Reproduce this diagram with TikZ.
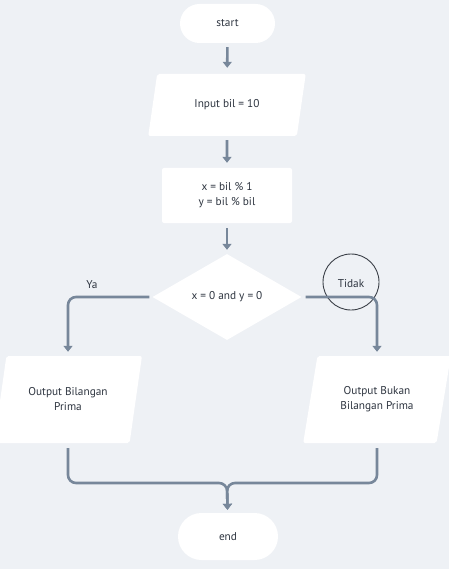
\documentclass[tikz,border=0pt]{standalone}
\usepackage{fontspec}
\setmainfont{PT Sans}
\usepackage{xcolor}
\usetikzlibrary{positioning,shapes.geometric,shapes.misc,arrows.meta}
\definecolor{bgcol}{HTML}{EEF1F5}
\definecolor{linecol}{HTML}{77879A}
\definecolor{txtcol}{HTML}{2E3540}
\definecolor{ringcol}{HTML}{3A3F47}
\tikzset{
  basic/.style    = {fill=white, draw=none, text=txtcol, align=center,
                     font=\fontsize{11.3}{15}\selectfont, inner sep=0pt},
  terminal/.style = {basic, rounded rectangle, minimum width=95pt,
                     minimum height=39pt},
  io/.style       = {basic, trapezium, trapezium stretches=true,
                     rounded corners=2pt},
  process/.style  = {basic, rectangle, rounded corners=2pt,
                     minimum width=130pt, minimum height=55pt},
  decision/.style = {basic, diamond, minimum width=149pt, minimum height=86pt},
  label/.style    = {text=txtcol, font=\fontsize{11.3}{15}\selectfont, inner sep=0pt},
  flow/.style     = {draw=linecol, line width=2.6pt, rounded corners=8pt,
                     -{Triangle[length=6pt,width=9pt]}},
  ring/.style     = {circle, draw=ringcol, line width=0.9pt, minimum size=56pt}
}

\begin{document}
\begin{tikzpicture}[x=1pt,y=-1pt]
  \fill[bgcol] (0,0) rectangle (449,569);
  \useasboundingbox (0,0) rectangle (449,569);

  \node[terminal] (start) at (227.5,23.5) {start};
  \node[io, minimum width=158pt, minimum height=62pt,
        trapezium left angle=68, trapezium right angle=112]
        (input) at (227,105) {Input bil = 10};
  \node[process] (calc) at (227,195.5) {x = bil \% 1\\y = bil \% bil};
  \node[decision] (cond) at (227,297) {x = 0 and y = 0};
  \node[io, minimum width=148pt, minimum height=87pt,
        trapezium left angle=71, trapezium right angle=109]
        (outL) at (68,399.5) {Output Bilangan\\Prima};
  \node[io, minimum width=148pt, minimum height=87pt,
        trapezium left angle=71, trapezium right angle=109]
        (outR) at (377,399.5) {Output Bukan\\Bilangan Prima};
  \node[terminal, minimum width=100pt, minimum height=47pt] (end) at (228,536.5) {end};
  \coordinate (merge) at (227,483);

  \node[label] (ya) at (92,285) {Ya};
  \node[label] (tidak) at (351,284) {Tidak};
  \node[ring] (tidakring) at (351,282) {};

  \draw[flow, shorten <=4pt, shorten >=6pt] (start) -- (input);
  \draw[flow, shorten <=4pt, shorten >=5pt] (input) -- (calc);
  \draw[flow, shorten <=5pt, shorten >=4pt] (calc) -- (cond);
  \draw[flow, shorten <=3pt, shorten >=4pt] (cond.west) -| (outL);
  \draw[flow, shorten <=4pt, shorten >=4pt] (cond.east) -| (outR);
  \draw[flow, shorten <=5pt, shorten >=3pt] (outL) |- (merge) -- (end);
  \draw[flow, shorten <=5pt, shorten >=3pt] (outR) |- (merge) -- (end);
\end{tikzpicture}
\end{document}
